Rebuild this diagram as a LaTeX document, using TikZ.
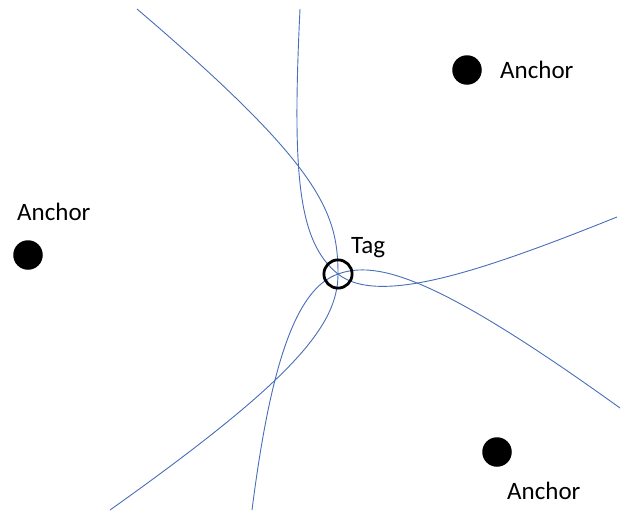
\documentclass[tikz,border=0pt]{standalone}
\usepackage{fontspec}
\setmainfont{Carlito}
\usetikzlibrary{backgrounds}
\definecolor{hypblue}{RGB}{72,110,185}
\begin{document}
\begin{tikzpicture}[x=1pt,y=-1pt,
  anchordot/.style={circle,fill=black,inner sep=0pt,minimum size=29.5pt},
  tagmark/.style={circle,draw=black,line width=2.8pt,inner sep=0pt,minimum size=28.2pt},
  lbl/.style={inner sep=0pt,anchor=base west,font=\fontsize{25pt}{30pt}\selectfont},
  hyp/.style={draw=hypblue,line width=0.9pt,line join=round}]
\useasboundingbox (0,0) rectangle (628,511);

% anchors
\node[anchordot] (a1) at (467,70) {};
\node[anchordot] (a2) at (28,255) {};
\node[anchordot] (a3) at (497,452) {};
\node[lbl] (l1) at (500,78) {Anchor};
\node[lbl] (l2) at (17,220) {Anchor};
\node[lbl] (l3) at (507,499) {Anchor};

% tag
\node[tagmark] (tag) at (338,274) {};
\node[lbl] (lt) at (351,253) {Tag};

% free ends of the curves
\coordinate (e1) at (137,9);
\coordinate (e2) at (110,510);
\coordinate (e3) at (300,9);
\coordinate (e4) at (617,217);
\coordinate (e5) at (252,510);
\coordinate (e6) at (620,408);

\begin{scope}[on background layer]
% branch around the left anchor
\draw[hyp] (e1) .. controls (321,166) and (338,212.4) .. (tag.center)
                .. controls (338,325.8) and (292.4,380.4) .. (e2);
% branch around the top-right anchor
\draw[hyp] (e3) .. controls (292,175) and (298,242) .. (tag.center)
                .. controls (378,306) and (480,272) .. (e4);
% branch around the bottom-right anchor
\draw[hyp] (e5) .. controls (271.2,359.2) and (297.1,288.4) .. (tag.center)
                .. controls (376.7,260.4) and (435.1,274.9) .. (e6);
\end{scope}
\end{tikzpicture}
\end{document}
